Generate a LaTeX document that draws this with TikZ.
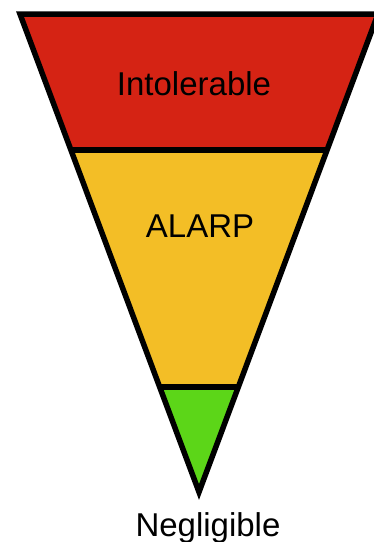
\documentclass[tikz,border=0pt]{standalone}
\usepackage{fontspec}
\setmainfont{Liberation Sans}
\usepackage{tikz}
\usetikzlibrary{calc}
\definecolor{riskred}{RGB}{213,35,20}
\definecolor{riskamber}{RGB}{243,190,38}
\definecolor{riskgreen}{RGB}{92,214,24}

\begin{document}
\begin{tikzpicture}[
    x=1pt, y=-1pt,
    every node/.style={font=\fontsize{33}{40}\selectfont, inner sep=0pt},
    lbl/.style={anchor=base},
    band/.style={draw=none},
    edge/.style={line width=5.5pt, line join=miter},
]
    \useasboundingbox (0,0) rectangle (374,542);
    \clip (0,0) rectangle (374,542);

    % corners of the inverted triangle
    \coordinate (tl) at (20,14);
    \coordinate (tr) at (378,14);
    \coordinate (apex) at (199,492);

    % band boundaries
    \coordinate (ml) at ($(tl)!0.2845!(apex)$);
    \coordinate (mr) at ($(tr)!0.2845!(apex)$);
    \coordinate (bl) at ($(tl)!0.780!(apex)$);
    \coordinate (br) at ($(tr)!0.780!(apex)$);

    % bands
    \fill[band, riskred] (tl) -- (tr) -- (mr) -- (ml) -- cycle;
    \fill[band, riskamber] (ml) -- (mr) -- (br) -- (bl) -- cycle;
    \fill[band, riskgreen] (bl) -- (br) -- (apex) -- cycle;

    % dividers and outline
    \draw[edge] (ml) -- (mr);
    \draw[edge] (bl) -- (br);
    \draw[edge] (tl) -- (tr) -- (apex) -- cycle;

    % labels
    \node[lbl] (intol) at (194,95) {Intolerable};
    \node[lbl] (alarp) at (200,237) {ALARP};
    \node[lbl] (neglig) at (208,536) {Negligible};
\end{tikzpicture}
\end{document}
